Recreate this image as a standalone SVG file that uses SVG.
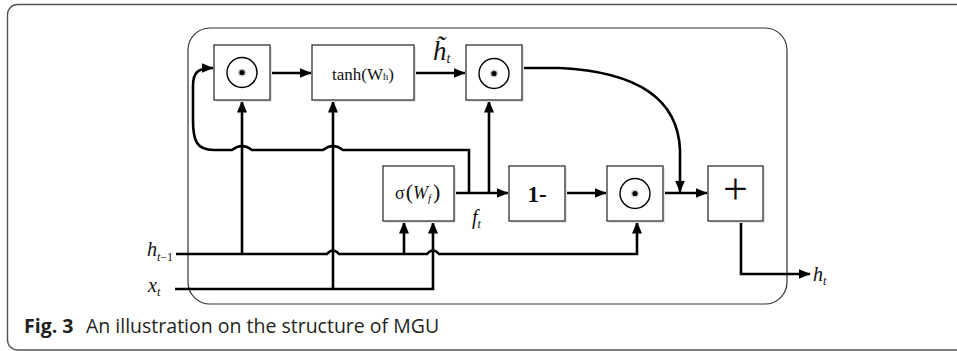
<svg xmlns="http://www.w3.org/2000/svg" width="957" height="351" viewBox="0 0 957 351">
<style>
.box{fill:#fff;stroke:#333;stroke-width:1.3}
.shadow{fill:#e4e4e4}
.ring{fill:none;stroke:#000;stroke-width:1.4}
.wire{fill:none;stroke:#000;stroke-width:2.6;stroke-linejoin:miter}
.arr{marker-end:url(#ah)}
.lbl{font-family:"Liberation Serif","Times New Roman",serif;fill:#111}
.it{font-style:italic}
.cap{font-family:"Open Sans","Noto Sans",sans-serif;font-size:19.5px;fill:#231f20}
</style>
<defs>
<marker id="ah" viewBox="0 0 12 10" refX="11.5" refY="5" markerWidth="12" markerHeight="10" markerUnits="userSpaceOnUse" orient="auto">
<path d="M0,0 L12,5 L0,10 Z" fill="#000"/>
</marker>
</defs>
<rect x="7.5" y="4.5" width="1000" height="345.5" rx="10" fill="#fff" stroke="#555" stroke-width="1.4"/>
<rect x="188" y="28" width="599" height="276" rx="22" fill="none" stroke="#333" stroke-width="1.2"/>

<g id="connectors">
<path class="wire arr" d="M270,73 L311,73"/>
<path class="wire arr" d="M414,73 L465,73"/>
<path class="wire arr" d="M522,68 L560,68 C640,72 678,100 680,150 L680,192"/>
<path class="wire arr" d="M454,193 L508,193"/>
<path class="wire arr" d="M565,193 L606,193"/>
<path class="wire arr" d="M663,193 L707,193"/>
<path class="wire arr" d="M489,193 L489,101"/>
<path class="wire arr" d="M469,193 L469,150 L343,150 Q333,142 323,150 L252,150 Q242,142 232,150 L214,150 C196,150 193,140 193,120 L193,86 C193,72 198,68 213,68"/>
<path class="wire arr" d="M176,254 L327,254 Q333,247 339,254 L427,254 Q433,247 439,254 L637,254 L637,222"/>
<path class="wire arr" d="M242,254 L242,101"/>
<path class="wire arr" d="M404,254 L404,222"/>
<path class="wire arr" d="M175,289 L433,289 L433,222"/>
<path class="wire arr" d="M333,289 L333,101"/>
<path class="wire arr" d="M741,221 L741,274 L810,274"/>
</g>

<g id="mul1">
<rect class="shadow" x="216" y="47" width="56" height="55"/>
<rect class="box" x="214" y="45" width="56" height="55"/>
<circle class="ring" cx="242" cy="72.5" r="15"/>
<circle cx="242" cy="72.5" r="4" fill="#ccc"/>
<circle cx="242" cy="72.5" r="2.6" fill="#000"/>
</g>
<g id="tanh">
<rect class="shadow" x="314" y="47" width="102" height="55"/>
<rect class="box" x="312" y="45" width="102" height="55"/>
<text class="lbl" x="332" y="80" font-size="17">tanh(W<tspan font-size="10.5">h</tspan>)</text>
</g>
<g id="mul2">
<rect class="shadow" x="468" y="47" width="56" height="55"/>
<rect class="box" x="466" y="45" width="56" height="55"/>
<circle class="ring" cx="494" cy="73.5" r="15"/>
<circle cx="494" cy="73.5" r="4" fill="#ccc"/>
<circle cx="494" cy="73.5" r="2.6" fill="#000"/>
</g>
<g id="sigma">
<rect class="shadow" x="385" y="168" width="71" height="55"/>
<rect class="box" x="383" y="166" width="71" height="55"/>
<text class="lbl" x="395" y="199" font-size="18">σ<tspan font-size="22" dx="1">(</tspan><tspan class="it">W</tspan><tspan class="it" font-size="11" dy="3">f</tspan><tspan font-size="22" dy="-3" dx="2">)</tspan></text>
</g>
<g id="oneminus">
<rect class="shadow" x="511" y="168" width="56" height="55"/>
<rect class="box" x="509" y="166" width="56" height="55"/>
<text class="lbl" x="537" y="202" font-size="23" font-weight="bold" text-anchor="middle">1-</text>
</g>
<g id="mul3">
<rect class="shadow" x="609" y="168" width="56" height="55"/>
<rect class="box" x="607" y="166" width="56" height="55"/>
<circle class="ring" cx="635" cy="193.5" r="15"/>
<circle cx="635" cy="193.5" r="4" fill="#ccc"/>
<circle cx="635" cy="193.5" r="2.6" fill="#000"/>
</g>
<g id="plus">
<rect class="shadow" x="710" y="168" width="55" height="55"/>
<rect class="box" x="708" y="166" width="55" height="55"/>
<text class="lbl" x="735.5" y="204" font-size="44" text-anchor="middle">+</text>
</g>

<g id="labels">
<text class="lbl it" x="433" y="60" font-size="27">h&#x303;<tspan font-size="14" dy="3">t</tspan></text>
<text class="lbl it" x="147" y="256" font-size="20">h<tspan font-size="12" dy="5">t</tspan><tspan font-size="12" font-style="normal">−1</tspan></text>
<text class="lbl it" x="148" y="292" font-size="20">x<tspan font-size="12" dy="4">t</tspan></text>
<text class="lbl it" x="472" y="224" font-size="20">f<tspan font-size="12" dy="4">t</tspan></text>
<text class="lbl it" x="813" y="281" font-size="20">h<tspan font-size="12" dy="4">t</tspan></text>
</g>

<text class="cap" y="333"><tspan x="24" font-weight="bold">Fig. 3</tspan><tspan x="86">An illustration on the structure of MGU</tspan></text>
</svg>
